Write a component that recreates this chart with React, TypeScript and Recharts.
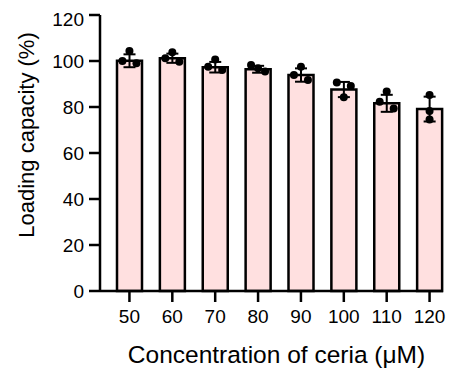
import {
  Bar,
  ComposedChart,
  ErrorBar,
  Label,
  Scatter,
  XAxis,
  YAxis,
} from "recharts";

const concentrations = ["50", "60", "70", "80", "90", "100", "110", "120"];
const meanLoading = [100.1, 101.2, 97.3, 96.4, 93.9, 87.6, 81.6, 79.1];
const sdLoading = [2.8, 2.0, 2.3, 1.5, 2.9, 3.3, 3.7, 5.4];
// three replicates per concentration
const repCenter = [104.3, 103.8, 100.7, 96.8, 97.5, 84.2, 86.7, 78.3];
const repLeft = [100.0, 101.2, 97.5, 98.3, 93.9, 90.6, 82.3, 85.2];
const repRight = [99.0, 99.7, 96.1, 95.4, 91.7, 89.1, 79.4, 74.6];
const yTicks = [0, 20, 40, 60, 80, 100, 120];

const data = concentrations.map((c, i) => ({
  conc: c,
  mean: meanLoading[i],
  sd: sdLoading[i],
  left: repLeft[i],
  center: repCenter[i],
  right: repRight[i],
}));

const FONT = "'Liberation Sans', Arial, sans-serif";
const stacked = new Set(["120"]);

const dot = (offset: number) => (props: any) => {
  const dx = stacked.has(props.payload?.conc) ? 0 : offset;
  return <circle cx={props.cx + dx} cy={props.cy} r={4} fill="#000" />;
};

const App = () => {
  return (
    <ComposedChart
      width={453}
      height={368}
      data={data}
      margin={{ top: 7, right: 18, bottom: 25, left: 0 }}
      barCategoryGap={0}
    >
      <XAxis
        dataKey="conc"
        height={60}
        padding={{ left: 8, right: -8 }}
        tickSize={11}
        tickMargin={8}
        axisLine={{ stroke: "#000", strokeWidth: 2.5 }}
        tickLine={{ stroke: "#000", strokeWidth: 2.5 }}
        tick={{ fill: "#000", fontSize: 19, fontFamily: FONT }}
        interval={0}
      >
        <Label
          content={() => (
            <text
              x={268.5}
              y={355}
              textAnchor="middle"
              fontSize={24.5}
              fontFamily={FONT}
              fill="#000"
            >
              Concentration of ceria (μM)
            </text>
          )}
        />
      </XAxis>
      <YAxis
        width={92}
        domain={[0, 120]}
        ticks={yTicks}
        tickSize={11}
        tickMargin={5}
        axisLine={{ stroke: "#000", strokeWidth: 2.5 }}
        tickLine={{ stroke: "#000", strokeWidth: 2.5 }}
        tick={{ fill: "#000", fontSize: 19, fontFamily: FONT }}
      >
        <Label
          content={() => (
            <text
              x={25.5}
              y={127}
              transform="rotate(-90, 25.5, 127)"
              textAnchor="middle"
              fontSize={22}
              fontFamily={FONT}
              fill="#000"
            >
              Loading capacity (%)
            </text>
          )}
        />
      </YAxis>
      <Bar
        dataKey="mean"
        barSize={25}
        fill="#FFE0E0"
        stroke="#000"
        strokeWidth={2.5}
        isAnimationActive={false}
      >
        <ErrorBar dataKey="sd" width={6} stroke="#000" strokeWidth={2} direction="y" />
      </Bar>
      <Scatter dataKey="left" shape={dot(-7)} isAnimationActive={false} />
      <Scatter dataKey="center" shape={dot(0)} isAnimationActive={false} />
      <Scatter dataKey="right" shape={dot(7)} isAnimationActive={false} />
    </ComposedChart>
  );
};

export default App;
